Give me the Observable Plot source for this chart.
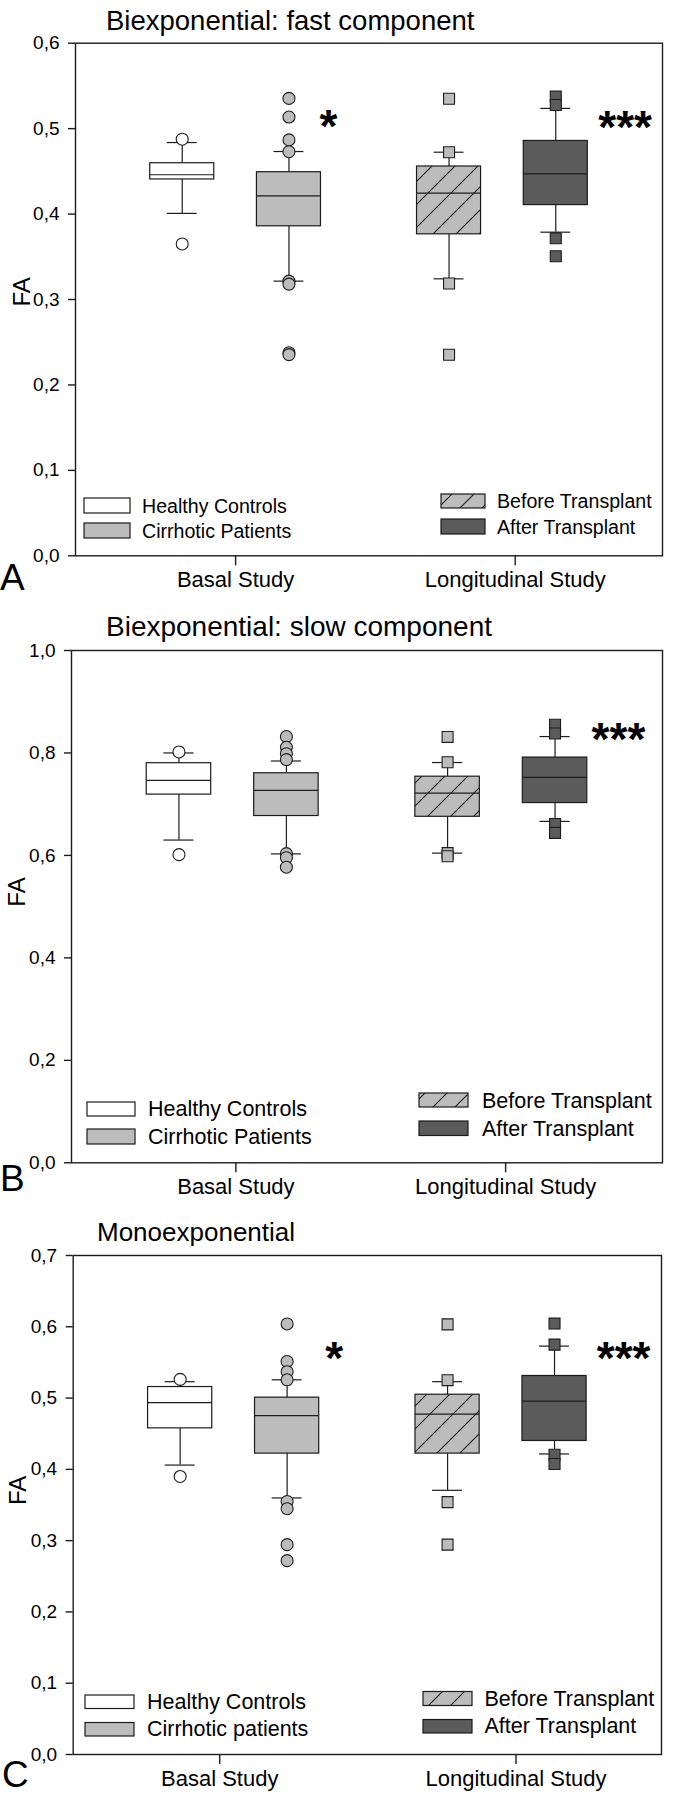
<!DOCTYPE html>
<html><head><meta charset="utf-8">
<script src="https://cdn.jsdelivr.net/npm/d3@7"></script>
<script src="https://cdn.jsdelivr.net/npm/@observablehq/plot@0.6"></script>
<style>
body{margin:0;background:#fff}
#root{position:relative;width:683px;height:1800px;font-family:"Liberation Sans",Arial,sans-serif}
.panel{position:absolute;left:0}
#overlay{position:absolute;left:0;top:0}
</style>
</head><body><div id="root"></div>
<script>
// ---------- data ----------
const groups = ["Healthy Controls", "Cirrhotic Patients", "Before Transplant", "After Transplant"];
const xTickLabels = ["Basal Study", "Longitudinal Study"];

// A: Biexponential fast component
const fastTicks = [0, 0.1, 0.2, 0.3, 0.4, 0.5, 0.6];
const fastQ1 = [0.4405, 0.3857, 0.3763, 0.4105];
const fastMedian = [0.446, 0.4214, 0.4245, 0.4471];
const fastQ3 = [0.4595, 0.449, 0.4557, 0.4856];
const fastLow = [0.4008, 0.3215, 0.3242, 0.3788];
const fastHigh = [0.4837, 0.4732, 0.4724, 0.5237];
const fastOutliers = [
  [0.4876, 0.365],
  [0.5354, 0.5136, 0.4868, 0.473, 0.3215, 0.318, 0.2377, 0.2355],
  [0.535, 0.4724, 0.3188, 0.2354],
  [0.5377, 0.5276, 0.3716, 0.3506]
];
const fastStarText = ["*", "***"];
const fastStarX = [2.37, 5.15];
const fastStarY = [0.515, 0.513];

// B: Biexponential slow component
const slowTicks = [0, 0.2, 0.4, 0.6, 0.8, 1.0];
const slowQ1 = [0.7187, 0.6769, 0.6754, 0.7022];
const slowMedian = [0.7463, 0.7269, 0.7216, 0.7522];
const slowQ3 = [0.780, 0.7604, 0.7537, 0.791];
const slowLow = [0.630, 0.603, 0.6045, 0.6664];
const slowHigh = [0.80, 0.7843, 0.7813, 0.832];
const slowOutliers = [
  [0.802, 0.6015],
  [0.832, 0.811, 0.7985, 0.787, 0.6035, 0.5955, 0.577],
  [0.8313, 0.782, 0.6045, 0.5985],
  [0.855, 0.838, 0.6612, 0.644]
];
const slowStarText = ["***"];
const slowStarX = [5.09];
const slowStarY = [0.846];

// C: Monoexponential
const monoTicks = [0, 0.1, 0.2, 0.3, 0.4, 0.5, 0.6, 0.7];
const monoQ1 = [0.4575, 0.4221, 0.4221, 0.4398];
const monoMedian = [0.4935, 0.4755, 0.4774, 0.4956];
const monoQ3 = [0.5155, 0.5006, 0.5047, 0.531];
const monoLow = [0.406, 0.3599, 0.3706, 0.4216];
const monoHigh = [0.523, 0.5256, 0.523, 0.5729];
const monoOutliers = [
  [0.5262, 0.39],
  [0.604, 0.5514, 0.537, 0.5256, 0.355, 0.3448, 0.2944, 0.2719],
  [0.6034, 0.5251, 0.354, 0.2944],
  [0.6045, 0.575, 0.4205, 0.4076]
];
const monoStarText = ["*", "***"];
const monoStarX = [2.44, 5.146];
const monoStarY = [0.5694, 0.5694];

// ---------- style / layout ----------
const INK = "#1c1c1c";
const GRAY = "#bcbcbc";
const DARK = "#5b5b5b";
const FONT = "'Liberation Sans', Arial, sans-serif";
const slot = [1, 2, 3.5, 4.5];
const boxHalf = 0.3, capHalf = 0.14;
const fmt = d => d.toFixed(1).replace(".", ",");

function styleFor(i, hatchId) {
  return [
    {fill: "white", dot: "white", symbol: "circle", r: 6},
    {fill: GRAY, dot: GRAY, symbol: "circle", r: 6},
    {fill: `url(#${hatchId})`, dot: GRAY, symbol: "square", r: 6.2},
    {fill: DARK, dot: DARK, symbol: "square", r: 6.2}
  ][i];
}

const root = document.getElementById("root");

function drawPanel(cfg) {
  const hatchId = "hatch" + cfg.key;
  const marks = [
    () => {
      const g = d3.create("svg:g");
      const p = g.append("defs").append("pattern").attr("id", hatchId)
        .attr("patternUnits", "userSpaceOnUse").attr("width", 23).attr("height", 23);
      p.append("rect").attr("width", 23).attr("height", 23).attr("fill", GRAY);
      p.append("path").attr("d", "M0,23L23,0M-6,6L6,-6M17,29L29,17")
        .attr("stroke", INK).attr("stroke-width", 1.1).attr("fill", "none");
      return g.node();
    },
    Plot.axisY({ticks: cfg.ticks, tickSize: 7, tickPadding: 9, tickFormat: fmt, fontSize: 19,
      label: null, stroke: INK, strokeWidth: 1.4, fill: "black"}),
    Plot.axisX({ticks: cfg.xTicks, tickSize: 10, tickPadding: 6,
      tickFormat: d => xTickLabels[cfg.xTicks.indexOf(d)], fontSize: 22,
      label: null, stroke: INK, strokeWidth: 1.4, fill: "black"})
  ];
  groups.forEach((g, i) => {
    const st = styleFor(i, hatchId);
    const row = [{pos: slot[i], q1: cfg.q1[i], med: cfg.med[i], q3: cfg.q3[i], lo: cfg.lo[i], hi: cfg.hi[i]}];
    const outs = cfg.out[i].map(v => ({pos: slot[i], v}));
    marks.push(
      Plot.ruleX(row, {x: "pos", y1: "lo", y2: "q1", stroke: INK, strokeWidth: 1.2}),
      Plot.ruleX(row, {x: "pos", y1: "q3", y2: "hi", stroke: INK, strokeWidth: 1.2}),
      Plot.ruleY(row, {y: "lo", x1: d => d.pos - capHalf, x2: d => d.pos + capHalf, stroke: INK, strokeWidth: 1.2}),
      Plot.ruleY(row, {y: "hi", x1: d => d.pos - capHalf, x2: d => d.pos + capHalf, stroke: INK, strokeWidth: 1.2}),
      Plot.rect(row, {x1: d => d.pos - boxHalf, x2: d => d.pos + boxHalf, y1: "q1", y2: "q3",
        fill: st.fill, stroke: INK, strokeWidth: 1.2}),
      Plot.ruleY(row, {y: "med", x1: d => d.pos - boxHalf, x2: d => d.pos + boxHalf, stroke: INK, strokeWidth: 1.2}),
      Plot.dot(outs, {x: "pos", y: "v", symbol: st.symbol, r: st.r, fill: st.dot, stroke: INK, strokeWidth: 1.1})
    );
  });
  const stars = cfg.starText.map((t, i) => ({t, x: cfg.starX[i], y: cfg.starY[i]}));
  marks.push(
    Plot.text(stars, {x: "x", y: "y", text: "t", fontSize: 46, fontWeight: "bold", fill: "black", dy: 11}),
    Plot.text(["FA"], {text: d => d, frameAnchor: "left", dx: -(cfg.m[3] - cfg.faX), dy: cfg.faDy,
      rotate: -90, fontSize: 24, fill: "black"}),
    Plot.frame({stroke: INK, strokeWidth: 1.4})
  );
  const chart = Plot.plot({
    width: 683, height: 600,
    marginTop: cfg.m[0], marginRight: cfg.m[1], marginBottom: cfg.m[2], marginLeft: cfg.m[3],
    x: {domain: [0, 5.5], axis: null},
    y: {domain: [0, cfg.ticks[cfg.ticks.length - 1]], axis: null},
    style: {fontFamily: FONT, background: "transparent", color: "black", overflow: "visible"},
    marks
  });
  chart.classList.add("panel");
  chart.style.top = cfg.top + "px";
  root.appendChild(chart);
}

drawPanel({key: "A", top: 0, m: [42.7, 21, 44.7, 75], ticks: fastTicks, xTicks: [1.5, 4.12], faX: 22, faDy: 7,
  q1: fastQ1, med: fastMedian, q3: fastQ3, lo: fastLow, hi: fastHigh, out: fastOutliers,
  starText: fastStarText, starX: fastStarX, starY: fastStarY});
drawPanel({key: "B", top: 600, m: [50, 21, 37.7, 71], ticks: slowTicks, xTicks: [1.53, 4.04], faX: 17, faDy: 0,
  q1: slowQ1, med: slowMedian, q3: slowQ3, lo: slowLow, hi: slowHigh, out: slowOutliers,
  starText: slowStarText, starX: slowStarX, starY: slowStarY});
drawPanel({key: "C", top: 1200, m: [55, 22, 46, 72.7], ticks: monoTicks, xTicks: [1.37, 4.14], faX: 18, faDy: 0,
  q1: monoQ1, med: monoMedian, q3: monoQ3, lo: monoLow, hi: monoHigh, out: monoOutliers,
  starText: monoStarText, starX: monoStarX, starY: monoStarY});

// ---------- overlay: titles, panel letters, legends ----------
const ov = d3.select(root).append("svg").attr("id", "overlay")
  .attr("width", 683).attr("height", 1800).style("font-family", FONT);

const texts = [
  {t: "Biexponential: fast component", x: 106, y: 30, s: 27.5},
  {t: "Biexponential: slow component", x: 106, y: 636, s: 28},
  {t: "Monoexponential", x: 97, y: 1241, s: 26},
  {t: "A", x: 0, y: 590, s: 37},
  {t: "B", x: 0, y: 1191, s: 37},
  {t: "C", x: 2, y: 1787, s: 37}
];
texts.forEach(d => ov.append("text").attr("x", d.x).attr("y", d.y).attr("font-size", d.s).attr("fill", "black").text(d.t));

// legend pattern
const lp = ov.append("defs").append("pattern").attr("id", "hatchLegend")
  .attr("patternUnits", "userSpaceOnUse").attr("width", 22).attr("height", 22);
lp.append("rect").attr("width", 22).attr("height", 22).attr("fill", GRAY);
lp.append("path").attr("d", "M0,22L22,0M-6,6L6,-6M16,28L28,16").attr("stroke", INK).attr("stroke-width", 1.1);

const legendFills = ["white", GRAY, "url(#hatchLegend)", DARK];
const legends = [
  // panel A
  {g: 0, x: 84, y: 498, w: 46, h: 15, tx: 142, ty: 513, s: 19.6, t: "Healthy Controls"},
  {g: 1, x: 84, y: 523, w: 46, h: 15, tx: 142, ty: 538, s: 19.6, t: "Cirrhotic Patients"},
  {g: 2, x: 441, y: 494, w: 44, h: 14, tx: 497, ty: 508, s: 19.6, t: "Before Transplant"},
  {g: 3, x: 441, y: 519, w: 44, h: 15, tx: 497, ty: 534, s: 19.6, t: "After Transplant"},
  // panel B
  {g: 0, x: 87, y: 1102, w: 48, h: 14, tx: 148, ty: 1116, s: 21.5, t: "Healthy Controls"},
  {g: 1, x: 87, y: 1129, w: 48, h: 15, tx: 148, ty: 1144, s: 21.5, t: "Cirrhotic Patients"},
  {g: 2, x: 419, y: 1093, w: 49, h: 14, tx: 482, ty: 1107.5, s: 21.5, t: "Before Transplant"},
  {g: 3, x: 419, y: 1121, w: 49, h: 14.5, tx: 482, ty: 1135.5, s: 21.5, t: "After Transplant"},
  // panel C
  {g: 0, x: 85, y: 1695, w: 49, h: 13.5, tx: 147, ty: 1708.5, s: 21.5, t: "Healthy Controls"},
  {g: 1, x: 85, y: 1722.5, w: 49, h: 13.5, tx: 147, ty: 1736, s: 21.5, t: "Cirrhotic patients"},
  {g: 2, x: 423, y: 1691.5, w: 49, h: 14, tx: 484.5, ty: 1705.5, s: 21.5, t: "Before Transplant"},
  {g: 3, x: 423, y: 1719.5, w: 49, h: 13.5, tx: 484.5, ty: 1733, s: 21.5, t: "After Transplant"}
];
legends.forEach(d => {
  ov.append("rect").attr("x", d.x).attr("y", d.y).attr("width", d.w).attr("height", d.h)
    .attr("fill", legendFills[d.g]).attr("stroke", INK).attr("stroke-width", 1.2);
  ov.append("text").attr("x", d.tx).attr("y", d.ty).attr("font-size", d.s).attr("fill", "black").text(d.t);
});
</script></body></html>
